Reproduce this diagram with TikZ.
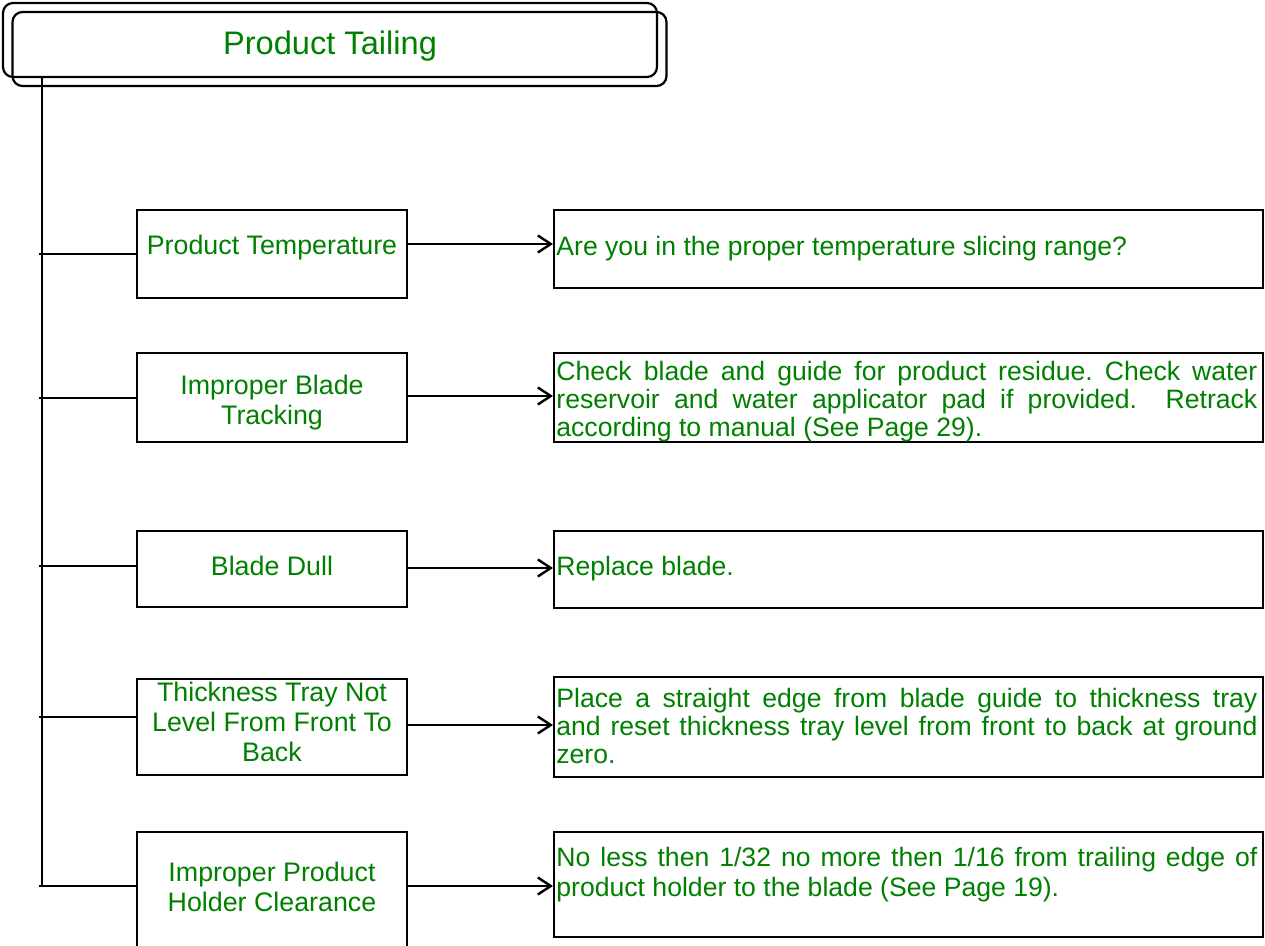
\documentclass[tikz,border=0pt]{standalone}
\usepackage{fontspec}
\setmainfont{Liberation Sans}
\usetikzlibrary{arrows.meta,calc}
\definecolor{txtgreen}{RGB}{0,128,0}

\begin{document}
\frenchspacing
\begin{tikzpicture}[x=0.5pt,y=-0.5pt,
  titlebox/.style={draw=black,line width=1.1pt,rounded corners=5pt,rectangle,inner sep=0pt,
    minimum width=327pt,minimum height=37pt},
  cause/.style={draw=black,line width=1pt,rectangle,minimum width=135pt,inner sep=0pt},
  causetext/.style={inner sep=0pt,align=center,text=txtgreen,
    font=\fontsize{13.4pt}{15pt}\selectfont},
  remedy/.style={draw=black,line width=1pt,rectangle,minimum width=354.5pt,inner sep=0pt},
  remedytext/.style={anchor=west,inner sep=0pt,align=left,text=txtgreen,
    font=\fontsize{13.3pt}{14pt}\selectfont},
  link/.style={line width=0.8pt},
  flow/.style={line width=1.1pt,-{Straight Barb[length=6.5pt,width=8.5pt,line width=1.2pt]}}]

\useasboundingbox (0,0) rectangle (1265,946);

% title with its offset outline
\node[titlebox] (titleback) at (339.5,49) {};
\node[titlebox,text=txtgreen,font=\fontsize{16.3pt}{19pt}\selectfont] (title) at (330,40)
  {\raisebox{-3pt}[\height][\depth]{Product Tailing}};

% causes
\node[cause,minimum height=44pt] (c1) at (272,254) {};
\node[cause,minimum height=44.5pt] (c2) at (272,397.5) {};
\node[cause,minimum height=38pt] (c3) at (272,569) {};
\node[cause,minimum height=48pt] (c4) at (272,727) {};
\node[cause,minimum height=59pt] (c5) at (272,891) {};

\node[causetext] (ct1) at ($(c1.center)+(0,-6)$) {Product Temperature};
\node[causetext] (ct2) at ($(c2.center)+(0,5.5)$) {Improper Blade\\Tracking};
\node[causetext] (ct3) at ($(c3.center)+(0,-3)$) {Blade Dull};
\node[causetext] (ct4) at ($(c4.center)+(0,-5)$) {Thickness Tray Not\\Level From Front To\\Back};
\node[causetext] (ct5) at ($(c5.center)+(0,-4)$) {Improper Product\\Holder Clearance};

% remedies
\node[remedy,minimum height=39pt] (r1) at (908.5,249) {};
\node[remedy,minimum height=44.5pt] (r2) at (908.5,397.5) {};
\node[remedy,minimum height=38.5pt] (r3) at (908.5,569.5) {};
\node[remedy,minimum height=50pt] (r4) at (908.5,727) {};
\node[remedy,minimum height=52.5pt] (r5) at (908.5,884.5) {};

\node[remedytext] (t1) at ($(r1.west)+(3,0)$) {Are you in the proper temperature slicing range?};
\node[remedytext] (t2) at ($(r2.west)+(3,4.5)$) {%
  \makebox[350.5pt][s]{Check blade and guide for product residue. Check water}\\
  \makebox[350.5pt][s]{reservoir and water applicator pad if provided.\ \ Retrack}\\
  according to manual (See Page 29).};
\node[remedytext] (t3) at ($(r3.west)+(3,-0.5)$) {Replace blade.};
\node[remedytext] (t4) at ($(r4.west)+(3,-1.5)$) {%
  \makebox[350.5pt][s]{Place a straight edge from blade guide to thickness tray}\\
  \makebox[350.5pt][s]{and reset thickness tray level from front to back at ground}\\
  zero.};
\node[remedytext,font=\fontsize{13.3pt}{15pt}\selectfont] (t5) at ($(r5.west)+(3,-9.5)$) {%
  \makebox[350.5pt][s]{No less then 1/32 no more then 1/16 from trailing edge of}\\
  product holder to the blade (See Page 19).};

% trunk and branches
\coordinate (trunk) at ($(title.south west)+(40,0)$);
\coordinate (j1) at (c1.west);
\coordinate (j2) at ([yshift=-0.25pt]c2.west);
\coordinate (j3) at ([yshift=1.5pt]c3.west);
\coordinate (j4) at ([yshift=5pt]c4.west);
\coordinate (j5) at ([yshift=2.5pt]c5.west);
\draw[link] (trunk) -- ([yshift=-0.5pt]trunk |- j5);
\foreach \j in {1,...,5}{
  \draw[link] (j\j) -- ([xshift=-1.5pt]trunk |- j\j);
}

% arrows from causes to remedies
\draw[flow] ([yshift=5pt]c1.east) -- ([yshift=5pt]c1.east -| r1.west);
\draw[flow] ([yshift=0.75pt]c2.east) -- ([yshift=0.75pt]c2.east -| r2.west);
\draw[flow] ([yshift=0.5pt]c3.east) -- ([yshift=0.5pt]c3.east -| r3.west);
\draw[flow] ([yshift=1pt]c4.east) -- ([yshift=1pt]c4.east -| r4.west);
\draw[flow] ([yshift=2.5pt]c5.east) -- ([yshift=2.5pt]c5.east -| r5.west);
\end{tikzpicture}
\end{document}
